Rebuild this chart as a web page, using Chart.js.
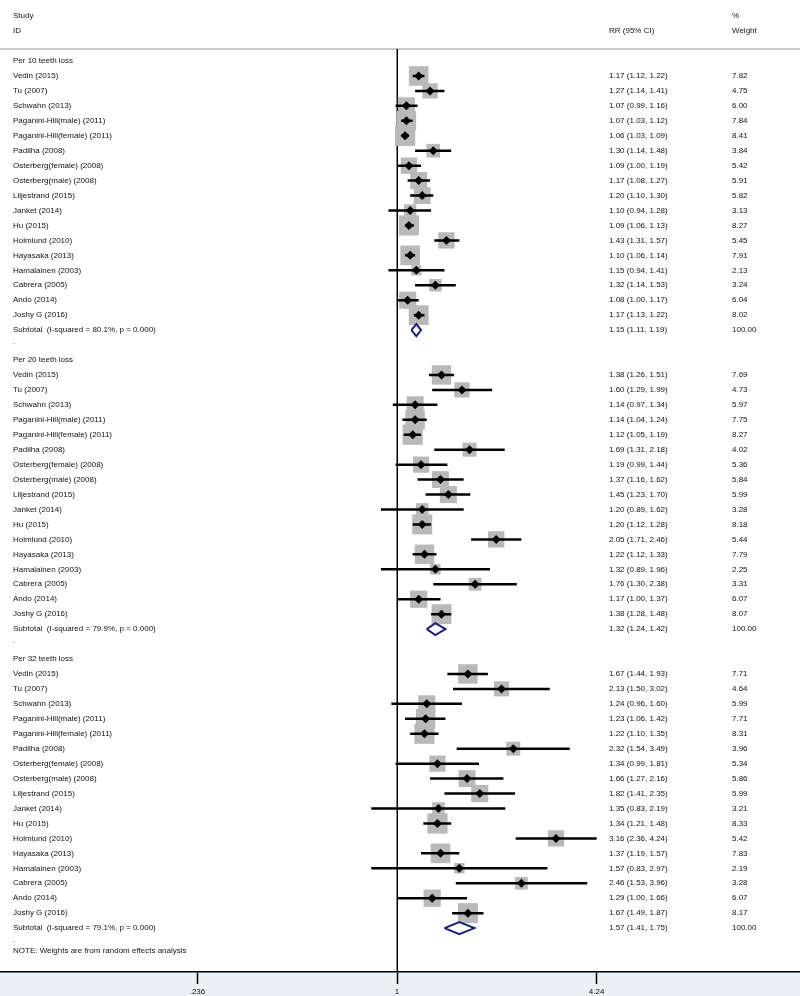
<!DOCTYPE html>
<html>
<head>
<meta charset="utf-8">
<script src="https://cdn.jsdelivr.net/npm/chart.js@4.4.1/dist/chart.umd.min.js"></script>
<style>
  html, body { margin: 0; padding: 0; background: #fff; }
</style>
</head>
<body>
<canvas id="forest" width="800" height="996"></canvas>
<script>
// study rows (same order in every section)
const studies = [
  "Vedin (2015)", "Tu (2007)", "Schwahn (2013)", "Paganini-Hill(male) (2011)",
  "Paganini-Hill(female) (2011)", "Padilha (2008)", "Osterberg(female) (2008)",
  "Osterberg(male) (2008)", "Liljestrand (2015)", "Janket (2014)", "Hu (2015)",
  "Holmlund (2010)", "Hayasaka (2013)", "Hamalainen (2003)", "Cabrera (2005)",
  "Ando (2014)", "Joshy G (2016)"
];
const sections = ["Per 10 teeth loss", "Per 20 teeth loss", "Per 32 teeth loss"];

// per 10 teeth loss
const rr10 = [1.17, 1.27, 1.07, 1.07, 1.06, 1.30, 1.09, 1.17, 1.20, 1.10, 1.09, 1.43, 1.10, 1.15, 1.32, 1.08, 1.17];
const lo10 = [1.12, 1.14, 0.99, 1.03, 1.03, 1.14, 1.00, 1.08, 1.10, 0.94, 1.06, 1.31, 1.06, 0.94, 1.14, 1.00, 1.13];
const hi10 = [1.22, 1.41, 1.16, 1.12, 1.09, 1.48, 1.19, 1.27, 1.30, 1.28, 1.13, 1.57, 1.14, 1.41, 1.53, 1.17, 1.22];
const wt10 = [7.82, 4.75, 6.00, 7.84, 8.41, 3.84, 5.42, 5.91, 5.82, 3.13, 8.27, 5.45, 7.91, 2.13, 3.24, 6.04, 8.02];

// per 20 teeth loss
const rr20 = [1.38, 1.60, 1.14, 1.14, 1.12, 1.69, 1.19, 1.37, 1.45, 1.20, 1.20, 2.05, 1.22, 1.32, 1.76, 1.17, 1.38];
const lo20 = [1.26, 1.29, 0.97, 1.04, 1.05, 1.31, 0.99, 1.16, 1.23, 0.89, 1.12, 1.71, 1.12, 0.89, 1.30, 1.00, 1.28];
const hi20 = [1.51, 1.99, 1.34, 1.24, 1.19, 2.18, 1.44, 1.62, 1.70, 1.62, 1.28, 2.46, 1.33, 1.96, 2.38, 1.37, 1.48];
const wt20 = [7.69, 4.73, 5.97, 7.75, 8.27, 4.02, 5.36, 5.84, 5.99, 3.28, 8.18, 5.44, 7.79, 2.25, 3.31, 6.07, 8.07];

// per 32 teeth loss
const rr32 = [1.67, 2.13, 1.24, 1.23, 1.22, 2.32, 1.34, 1.66, 1.82, 1.35, 1.34, 3.16, 1.37, 1.57, 2.46, 1.29, 1.67];
const lo32 = [1.44, 1.50, 0.96, 1.06, 1.10, 1.54, 0.99, 1.27, 1.41, 0.83, 1.21, 2.36, 1.19, 0.83, 1.53, 1.00, 1.49];
const hi32 = [1.93, 3.02, 1.60, 1.42, 1.35, 3.49, 1.81, 2.16, 2.35, 2.19, 1.48, 4.24, 1.57, 2.97, 3.96, 1.66, 1.87];
const wt32 = [7.71, 4.64, 5.99, 7.71, 8.31, 3.96, 5.34, 5.86, 5.99, 3.21, 8.33, 5.42, 7.83, 2.19, 3.28, 6.07, 8.17];

// subtotals
const subRR = [1.15, 1.32, 1.57];
const subLo = [1.11, 1.24, 1.41];
const subHi = [1.19, 1.42, 1.75];
const iSquared = ["80.1", "79.9", "79.1"];
const pValues = ["0.000", "0.000", "0.000"];

const tickValues = [0.236, 1, 4.24];
const tickLabels = [".236", "1", "4.24"];

// layout
const FONT = "8px 'Liberation Sans', Arial, sans-serif";
const firstRowY = 61;
const rowH = 14.95;
const axisBottom = 972;
const nullX = 397;
const pxPerLn = 138.2;

const sets = [[rr10, lo10, hi10, wt10], [rr20, lo20, hi20, wt20], [rr32, lo32, hi32, wt32]];
const rows = [];
sets.forEach((s, k) => {
  studies.forEach((name, i) => {
    rows.push({ y: 20 * k + 1 + i, rr: s[0][i], lo: s[1][i], hi: s[2][i], w: s[3][i], name });
  });
});

const ciData = [];
rows.forEach((r) => {
  ciData.push({ x: r.lo, y: r.y }, { x: r.hi, y: r.y }, { x: r.hi, y: null });
});

const diamondData = [];
subRR.forEach((v, k) => {
  const y = 20 * k + 18;
  diamondData.push(
    { x: subLo[k], y }, { x: v, y: y - 0.4 }, { x: subHi[k], y },
    { x: v, y: y + 0.4 }, { x: subLo[k], y }, { x: subLo[k], y: null },
  );
});

const fmt = (v) => v.toFixed(2);

const forestText = {
  id: "forest_text",
  beforeDraw: (chart) => {
    const { ctx, chartArea } = chart;
    ctx.save();
    ctx.fillStyle = "#ffffff";
    ctx.fillRect(0, 0, chart.width, chart.height);
    ctx.fillStyle = "#e9f1f4";
    ctx.fillRect(0, chartArea.bottom, chart.width, chart.height - chartArea.bottom);
    ctx.restore();
  },
  beforeDatasetsDraw: (chart) => {
    const { ctx, chartArea, scales } = chart;
    const top = scales.y.getPixelForValue(-0.8);
    ctx.save();
    ctx.strokeStyle = "#b4b4b4";
    ctx.lineWidth = 1.5;
    ctx.beginPath();
    ctx.moveTo(0, top);
    ctx.lineTo(chart.width, top);
    ctx.stroke();
    const x1 = Math.round(scales.x.getPixelForValue(1)) + 0.25;
    ctx.strokeStyle = "#000";
    ctx.lineWidth = 1.5;
    ctx.beginPath();
    ctx.moveTo(x1, top);
    ctx.lineTo(x1, chartArea.bottom);
    ctx.stroke();
    ctx.restore();
  },
  afterDatasetsDraw: (chart) => {
    const { ctx, scales } = chart;
    const py = (r) => scales.y.getPixelForValue(r);
    ctx.save();
    ctx.font = FONT;
    ctx.fillStyle = "#111";
    ctx.textBaseline = "middle";
    ctx.textAlign = "left";
    ctx.fillText("Study", 13, py(-3));
    ctx.fillText("ID", 13, py(-2));
    ctx.fillText("RR (95% CI)", 609, py(-2));
    ctx.fillText("%", 732, py(-3));
    ctx.fillText("Weight", 732, py(-2));
    sections.forEach((name, k) => {
      ctx.fillText(name, 13, py(20 * k));
      const ys = 20 * k + 18;
      ctx.fillText("Subtotal  (I-squared = " + iSquared[k] + "%, p = " + pValues[k] + ")", 13, py(ys));
      ctx.fillText(fmt(subRR[k]) + " (" + fmt(subLo[k]) + ", " + fmt(subHi[k]) + ")", 609, py(ys));
      ctx.fillText("100.00", 732, py(ys));
      ctx.fillText(".", 13, py(ys + 0.8));
    });
    rows.forEach((r) => {
      ctx.fillText(r.name, 13, py(r.y));
      ctx.fillText(fmt(r.rr) + " (" + fmt(r.lo) + ", " + fmt(r.hi) + ")", 609, py(r.y));
      ctx.fillText(fmt(r.w), 732, py(r.y));
    });
    ctx.fillText("NOTE: Weights are from random effects analysis", 13, py(59.5));
    ctx.restore();
  },
};

const yMin = -firstRowY / rowH;
const yMax = yMin + axisBottom / rowH;

new Chart(document.getElementById("forest").getContext("2d"), {
  type: "scatter",
  data: {
    datasets: [
      {
        label: "estimate",
        data: rows.map((r) => ({ x: r.rr, y: r.y })),
        pointStyle: "rectRot",
        pointRadius: 4.5,
        pointBackgroundColor: "#000",
        pointBorderWidth: 0,
        order: 0,
      },
      {
        label: "subtotal",
        data: diamondData,
        showLine: true,
        borderColor: "#1a1f78",
        borderWidth: 2,
        borderJoinStyle: "miter",
        pointRadius: 0,
        spanGaps: false,
        order: 0,
      },
      {
        label: "ci",
        data: ciData,
        showLine: true,
        borderColor: "#000",
        borderWidth: 2.5,
        borderCapStyle: "butt",
        pointRadius: 0,
        spanGaps: false,
        order: 1,
      },
      {
        label: "weight",
        data: rows.map((r) => ({ x: r.rr, y: r.y })),
        pointStyle: "rect",
        pointRadius: (c) => 4.95 * Math.sqrt(rows[c.dataIndex].w),
        pointBackgroundColor: "#b9b9b9",
        pointBorderWidth: 0,
        order: 2,
      },
    ],
  },
  options: {
    responsive: false,
    animation: false,
    events: [],
    layout: { padding: 0, autoPadding: false },
    plugins: { legend: { display: false }, tooltip: { enabled: false } },
    scales: {
      x: {
        type: "logarithmic",
        min: Math.exp(-nullX / pxPerLn),
        max: Math.exp((800 - nullX) / pxPerLn),
        afterBuildTicks: (scale) => {
          scale.ticks = tickValues.map((v) => ({ value: v }));
        },
        afterFit: (scale) => {
          scale.height = 996 - axisBottom;
        },
        ticks: {
          autoSkip: false,
          maxRotation: 0,
          padding: 3,
          color: "#111",
          font: { family: "'Liberation Sans', Arial, sans-serif", size: 8 },
          callback: (v, i) => tickLabels[i],
        },
        grid: {
          drawOnChartArea: false,
          drawTicks: true,
          tickLength: 12,
          tickColor: "#000",
          tickWidth: 1.5,
        },
        border: { display: true, color: "#000", width: 1.5 },
      },
      y: {
        type: "linear",
        display: false,
        reverse: true,
        min: yMin,
        max: yMax,
      },
    },
  },
  plugins: [forestText],
});
</script>
</body>
</html>
